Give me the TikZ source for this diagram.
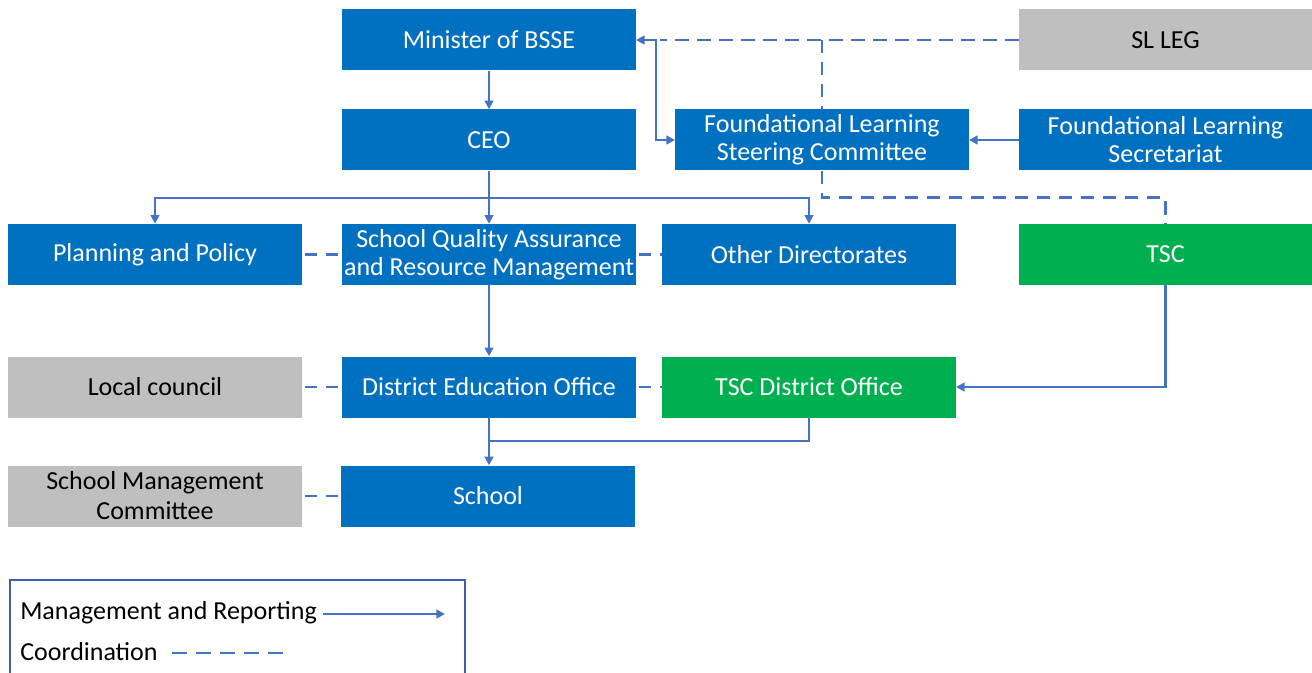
\documentclass[tikz,border=0pt]{standalone}
\usepackage{fontspec}
\setmainfont{Carlito}
\usetikzlibrary{arrows.meta,calc}
\definecolor{bxblue}{HTML}{0070C0}
\definecolor{bxgreen}{HTML}{00B050}
\definecolor{bxgray}{HTML}{BFBFBF}
\definecolor{lnblue}{HTML}{4472C4}
\definecolor{lgframe}{HTML}{3C5FA8}
\begin{document}
\begin{tikzpicture}[x=0.75pt,y=-0.75pt,
  box/.style={minimum width=220pt,minimum height=45.75pt,inner sep=0pt,align=center,
    font=\fontsize{19.5pt}{21pt}\selectfont},
  bluebox/.style={box,fill=bxblue,text=white},
  greenbox/.style={box,fill=bxgreen,text=white},
  graybox/.style={box,fill=bxgray,text=black},
  conn/.style={draw=lnblue,line width=2pt},
  mgmt/.style={conn,-{Triangle[length=6.5pt,width=6.5pt]}},
  coord/.style={conn,dash pattern=on 10pt off 6.5pt},
  lgtext/.style={anchor=west,inner sep=0pt,font=\fontsize{19.5pt}{21pt}\selectfont}
]
\useasboundingbox (0,0) rectangle (1312,673);
\fill[white] (0,0) rectangle (1312,673);

% boxes
\node[bluebox] (min) at (489,40) {Minister of BSSE};
\node[graybox] (sl) at (1165.5,40) {SL LEG};
\node[bluebox] (ceo) at (489,140) {CEO};
\node[bluebox] (flsc) at (822,140) {Foundational Learning\\Steering Committee};
\node[bluebox] (fls) at (1165.5,140) {Foundational Learning\\Secretariat};
\node[bluebox] (pp) at (155,254.5) {Planning and Policy};
\node[bluebox] (sqa) at (489,254.5) {School Quality Assurance\\and Resource Management};
\node[bluebox] (od) at (809,254.5) {Other Directorates};
\node[greenbox] (tsc) at (1165.5,254.5) {TSC};
\node[graybox] (lc) at (155,387) {Local council};
\node[bluebox] (deo) at (489,387) {District Education Office};
\node[greenbox] (tdo) at (809,387) {TSC District Office};
\node[graybox,font=\fontsize{19.5pt}{22.5pt}\selectfont] (smc) at (155,496) {School Management\\Committee};
\node[bluebox] (sch) at (488,496) {School};

% management connectors
\draw[mgmt] (min) -- (ceo);
\draw[conn,{Triangle[length=6.5pt,width=6.5pt]}-{Triangle[length=6.5pt,width=6.5pt]}] (min.east) -- ++(20,0) |- (flsc.west);
\draw[mgmt] (fls) -- (flsc);
\coordinate (bus) at (ceo.south |- 0,198);
\draw[mgmt] (ceo) -- (sqa);
\draw[mgmt] (bus) -| (pp.north);
\draw[mgmt] (bus) -| (od.north);
\draw[mgmt] (sqa) -- (deo);
\draw[mgmt] (tsc.south) |- (tdo.east);
\draw[mgmt] (deo.south) -- (sch.north -| deo.south);
\coordinate (join) at (deo.south |- 0,441);
\draw[conn] (tdo.south) |- (join);

% coordination connectors
\coordinate (slj) at (660,40);
\draw[coord] (sl.west) -- (slj);
\draw[coord] (flsc.north |- sl.west) -- (flsc.north);
\draw[coord] (flsc.south) -- ++(0,27) -| (tsc.north);
\draw[coord,dash pattern=on 9pt off 7pt,dash phase=-2pt] (pp) -- (sqa);
\draw[coord,dash pattern=on 9pt off 7pt,dash phase=-2pt] (sqa) -- (od);
\draw[coord,dash pattern=on 9pt off 7pt,dash phase=-2pt] (lc) -- (deo);
\draw[coord,dash pattern=on 9pt off 7pt,dash phase=-2pt] (deo) -- (tdo);
\draw[coord,dash pattern=on 9pt off 7pt,dash phase=-2pt] (smc) -- (sch);

% legend
\draw[draw=lgframe,line width=1pt] (10,673) -- (10,580) -- (465,580) -- (465,673);
\node[lgtext] (lg1) at (20,613) {Management and Reporting};
\coordinate (lg1e) at (445,614);
\draw[mgmt] ($(lg1.east)+(6,1)$) -- (lg1e);
\node[lgtext] (lg2) at (20,652) {Coordination};
\coordinate (lg2e) at (286,653);
\draw[conn,dash pattern=on 11pt off 7pt] ($(lg2.east)+(14,1)$) -- (lg2e);
\end{tikzpicture}
\end{document}
